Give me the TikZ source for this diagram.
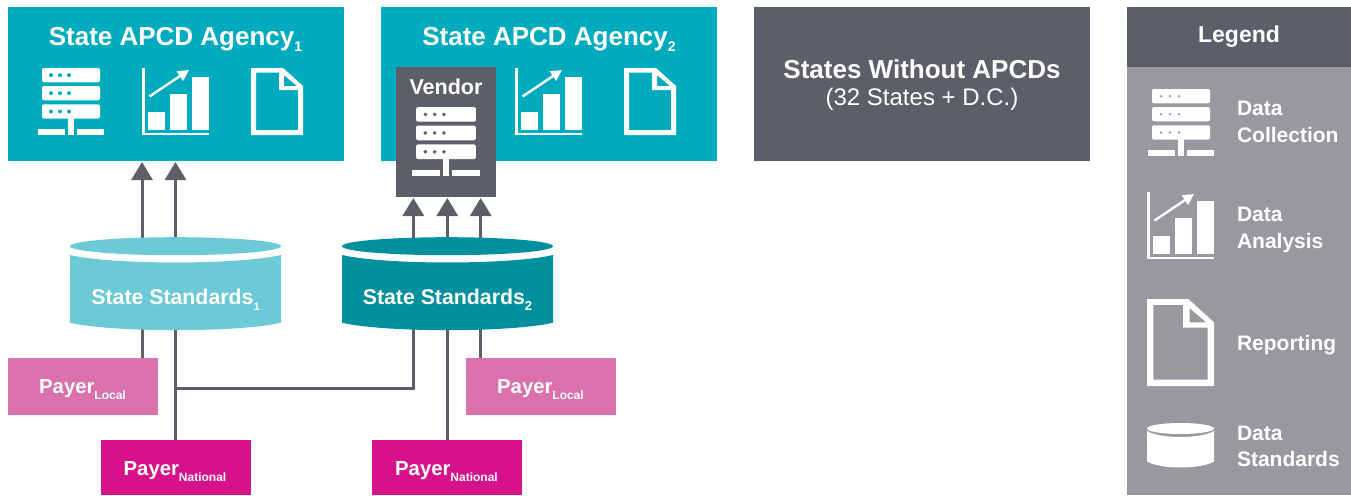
\documentclass[tikz,border=0pt]{standalone}
\usepackage{fontspec}
\setmainfont{Liberation Sans}
\usetikzlibrary{arrows.meta,calc}
\definecolor{teal}{HTML}{00ABBD}
\definecolor{slate}{HTML}{5C5E68}
\definecolor{legbg}{HTML}{98989E}
\definecolor{cylA}{HTML}{6CCAD6}
\definecolor{cylB}{HTML}{02909F}
\definecolor{pinkA}{HTML}{DA70AC}
\definecolor{pinkB}{HTML}{D6118A}
\newcommand{\fsz}[1]{\fontsize{#1}{#1}\selectfont}
\newcommand{\serverIcon}[6]{% x, y, scale, fg, bg, dot radius
\begin{scope}[shift={(#1,#2)},scale=#3]
\foreach \yy in {0,18,36.3}{
  \fill[#4,rounded corners=2pt] (4,\yy) rectangle (62,\yy+14.3);
  \foreach \xx in {13,22,31}{\fill[#5] (\xx,\yy+7.2) circle (#6);}
}
\fill[#4] (30,50) rectangle (36,61);
\fill[#4] (0,61) rectangle (27,67);
\fill[#4] (30,61) rectangle (36,67);
\fill[#4] (39,61) rectangle (66,67);
\end{scope}}
\newcommand{\chartIcon}[3]{% x, y, fg
\begin{scope}[shift={(#1,#2)}]
\fill[#3] (0,0) rectangle (2.5,67);
\fill[#3] (0,64.7) rectangle (67,67);
\fill[#3] (6,44) rectangle (23,62);
\fill[#3] (28,26) rectangle (45,62);
\fill[#3] (50,9) rectangle (67,62);
\draw[#3,line width=2.4pt,-{Triangle[length=11pt,width=11pt]}] (7.5,28.5) -- (47,2);
\end{scope}}
\newcommand{\docIcon}[5]{% x, y, xscale, yscale, fg
\begin{scope}[shift={(#1,#2)},xscale=#3,yscale=#4]
\fill[#5,even odd rule] (0,0) -- (32,0) -- (52,18) -- (52,67) -- (0,67) -- cycle
 (5,4.5) -- (5,62) -- (47,62) -- (47,22) -- (28,22) -- (28,4.5) -- cycle
 (33,7) -- (33,18) -- (46,18) -- cycle;
\end{scope}}
\newcommand{\cylShape}[8]{% x1, x2, ellipse cy, ry, body top, body bottom, sag, colour
\fill[#8] ({(#1+#2)/2},#3) ellipse ({(#2-#1)/2} and #4);
\fill[#8] (#1,#5) .. controls ({#1+(#2-#1)*0.2},#5+#7*1.33) and ({#2-(#2-#1)*0.2},#5+#7*1.33) .. (#2,#5)
 -- (#2,#6) .. controls ({#2-(#2-#1)*0.2},#6+#7*1.33) and ({#1+(#2-#1)*0.2},#6+#7*1.33) .. (#1,#6) -- cycle;}
\tikzset{
 panel/.style={rectangle,inner sep=0pt,outer sep=0pt,minimum width=336pt,minimum height=154pt,fill=teal},
 payerbox/.style={rectangle,inner sep=0pt,outer sep=0pt,minimum width=150pt},
 payertxt/.style={inner sep=0pt,outer sep=0pt,text=white,font=\bfseries\fsz{20.3}},
 lab/.style={inner sep=0pt,outer sep=0pt,text=white,font=\bfseries\fsz{21},align=left,anchor=west},
 titletext/.style={inner sep=0pt,outer sep=0pt,text=white,font=\bfseries\fsz{26}},
 cylnode/.style={rectangle,inner sep=0pt,outer sep=0pt,minimum width=211pt,minimum height=86pt},
 cyltxt/.style={inner sep=0pt,outer sep=0pt,text=white,font=\bfseries\fsz{21.3}},
 feed/.style={draw=slate,line width=3pt},
 feedarrow/.style={feed,-{Triangle[length=18pt,width=21pt]}},
}
\begin{document}
\begin{tikzpicture}[x=1pt,y=-1pt]
\useasboundingbox (0,0) rectangle (1351,495);
% column guides
\coordinate (u1) at (142,0);
\coordinate (u2) at (175.5,0);
\coordinate (v1) at (413.3,0);
\coordinate (v2) at (447.3,0);
\coordinate (v3) at (480.7,0);
\coordinate (hy) at (0,388);
% panels
\node[panel] (a1) at (176,84) {};
\node[panel] (a2) at (549,84) {};
\node[panel,fill=slate] (none) at (922,84) {};
\node[titletext] (t1) at (175.5,39.5) {State APCD Agency\raisebox{-6pt}{\fsz{14}1}};
\node[titletext] (t2) at (549,39.5) {State APCD Agency\raisebox{-6pt}{\fsz{14}2}};
\node[inner sep=0pt,text=white,align=center] (t3) at (922,85) {{\bfseries\fsz{26}States Without APCDs}\\[9pt]{\fsz{24}(32 States + D.C.)}};
% agency icons
\serverIcon{38}{68}{1}{white}{teal}{2}
\chartIcon{142}{68}{white}
\docIcon{251}{68}{1}{1}{white}
\chartIcon{515}{68}{white}
\docIcon{624}{68}{1}{1}{white}
% vendor
\node[rectangle,inner sep=0pt,outer sep=0pt,minimum width=100pt,minimum height=130pt,fill=slate] (vendor) at (446,132) {};
\node[inner sep=0pt,text=white,font=\bfseries\fsz{21.5}] (vt) at (446,87) {Vendor};
\serverIcon{412}{107}{1.03}{white}{slate}{1.9}
% cylinder anchors
\node[cylnode] (s1) at (175.5,283) {};
\node[cylnode] (s2) at (447.5,283) {};
% payers
\node[payerbox,minimum height=57pt,fill=pinkA] (l1) at (83,386.5) {};
\node[payerbox,minimum height=57pt,fill=pinkA] (l2) at (541,386.5) {};
\node[payerbox,minimum height=55pt,fill=pinkB] (n1) at (176,467.5) {};
\node[payerbox,minimum height=55pt,fill=pinkB] (n2) at (447,467.5) {};
\node[payertxt] (lt1) at (82.5,390) {Payer\raisebox{-6pt}{\fsz{12}Local}};
\node[payertxt] (lt2) at (540.5,390) {Payer\raisebox{-6pt}{\fsz{12}Local}};
\node[payertxt] (nt1) at (175,472) {Payer\raisebox{-6pt}{\fsz{12}National}};
\node[payertxt] (nt2) at (446.5,472) {Payer\raisebox{-6pt}{\fsz{12}National}};
% connectors
\draw[feedarrow] (s1.north -| u1) -- ([yshift=-1pt]a1.south -| u1);
\draw[feedarrow] (s1.north -| u2) -- ([yshift=-1pt]a1.south -| u2);
\draw[feedarrow] (s2.north -| v1) -- ([yshift=-1pt]vendor.south -| v1);
\draw[feedarrow] (s2.north -| v2) -- ([yshift=-1pt]vendor.south -| v2);
\draw[feedarrow] (s2.north -| v3) -- ([yshift=-1pt]vendor.south -| v3);
\draw[feed] (s1.south -| u1) -- (l1.north -| u1);
\draw[feed] (s1.south -| u2) -- (n1.north -| u2);
\draw[feed] (s2.south -| v2) -- (n2.north -| v2);
\draw[feed] (s2.south -| v3) -- (l2.north -| v3);
\draw[feed] (s2.south -| v1) -- (v1 |- hy) -- (u2 |- hy);
% cylinders, above the connector ends
\cylShape{70}{281}{246.2}{9}{255}{322.7}{7.5}{cylA}
\cylShape{342}{553}{246.2}{9}{255}{322.7}{7.5}{cylB}
\node[cyltxt] (st1) at (175.5,299.5) {State Standards\raisebox{-6pt}{\fsz{11}1}};
\node[cyltxt] (st2) at (447.5,299.5) {State Standards\raisebox{-6pt}{\fsz{13}2}};
% legend
\node[rectangle,inner sep=0pt,outer sep=0pt,minimum width=224pt,minimum height=428pt,fill=legbg] (lb) at (1239,281) {};
\node[rectangle,inner sep=0pt,outer sep=0pt,minimum width=224pt,minimum height=60pt,fill=slate,text=white,font=\bfseries\fsz{23}] (lh) at (1239,37) {Legend};
\serverIcon{1148}{89}{1}{white}{legbg}{1.3}
\chartIcon{1147}{192}{white}
\docIcon{1147}{299}{1.29}{1.3}{white}
\cylShape{1147}{1214}{428.5}{5.5}{431}{461.5}{6}{white}
\node[lab] (d1) at (1237,122) {Data\\[5.5pt]Collection};
\node[lab] (d2) at (1237,230) {Data\\[5.5pt]Analysis};
\node[lab] (d3) at (1237,345.5) {Reporting};
\node[lab] (d4) at (1237,446.5) {Data\\[5.5pt]Standards};
\end{tikzpicture}
\end{document}
